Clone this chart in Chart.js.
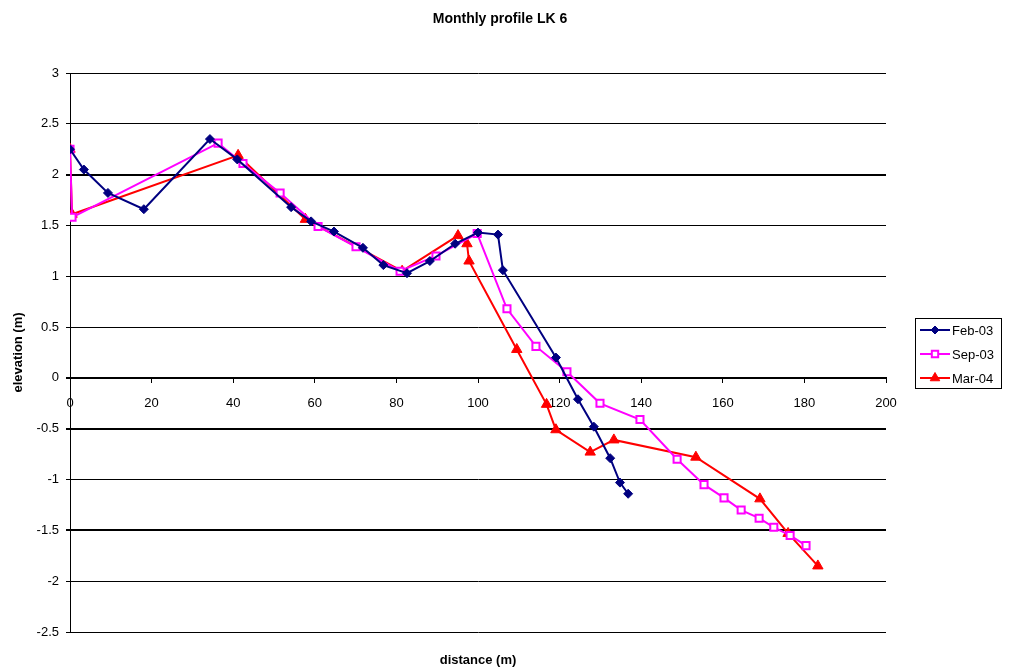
<!DOCTYPE html>
<html>
<head>
<meta charset="utf-8">
<script src="https://cdn.jsdelivr.net/npm/chart.js@4/dist/chart.umd.min.js"></script>
<style>
html,body{margin:0;padding:0;background:#fff;}
#wrap{width:1010px;height:671px;position:relative;}
</style>
</head>
<body>
<div id="wrap"><canvas id="c" width="1010" height="671"></canvas></div>
<script>
const chartTitle = "Monthly profile LK 6";
const xTitle = "distance (m)";
const yTitle = "elevation (m)";
const seriesNames = ["Feb-03", "Sep-03", "Mar-04"];

const febDist = [0, 3.4, 9.3, 18.1, 34.3, 41, 54.2, 59.1, 64.7, 71.8, 76.8, 82.6, 88.2, 94.4, 100, 104.9, 106.1, 119.1, 124.5, 128.4, 132.4, 134.8, 136.8];
const febElev = [2.25, 2.05, 1.82, 1.66, 2.35, 2.15, 1.68, 1.54, 1.44, 1.28, 1.11, 1.03, 1.15, 1.32, 1.43, 1.41, 1.06, 0.20, -0.21, -0.48, -0.79, -1.03, -1.14];

const sepDist = [0, 0.5, 36.3, 42.4, 51.5, 60.8, 70.1, 80.9, 89.7, 99.8, 107.1, 114.2, 121.8, 129.9, 139.7, 148.8, 155.4, 160.3, 164.5, 168.9, 172.5, 176.5, 180.4];
const sepElev = [2.25, 1.58, 2.31, 2.11, 1.82, 1.49, 1.29, 1.05, 1.20, 1.42, 0.68, 0.31, 0.06, -0.25, -0.41, -0.80, -1.05, -1.18, -1.30, -1.38, -1.47, -1.55, -1.65];

const marDist = [0, 0.5, 41.2, 57.7, 81.4, 95.1, 97.3, 97.8, 109.5, 116.8, 119.1, 127.5, 133.3, 153.4, 169.1, 176, 183.3];
const marElev = [2.25, 1.61, 2.19, 1.56, 1.05, 1.40, 1.32, 1.15, 0.28, -0.26, -0.51, -0.73, -0.61, -0.78, -1.19, -1.53, -1.85];

const xMin = 0, xMax = 200, xStep = 20;
const yMin = -2.5, yMax = 3, yStep = 0.5;

function pts(xs, ys){ return xs.map((x,i)=>({x:x, y:ys[i]})); }

const FONT = "'Liberation Sans', Arial, sans-serif";
const thickLines = [2, 0, -0.5, -1.5];

const styles = [
  {color:'#000080', pointStyle:'rectRot', radius:4.5, bg:'#000080'},
  {color:'#FF00FF', pointStyle:'rect', radius:5, bg:'#FFFFFF'},
  {color:'#FF0000', pointStyle:'triangle', radius:6, bg:'#FF0000'}
];

const dataArr = [pts(febDist, febElev), pts(sepDist, sepElev), pts(marDist, marElev)];

const datasets = dataArr.map((d,i)=>({
  label: seriesNames[i],
  data: d,
  showLine: true,
  borderColor: styles[i].color,
  backgroundColor: styles[i].bg,
  borderWidth: 2,
  pointStyle: styles[i].pointStyle,
  pointRadius: styles[i].radius,
  pointBorderColor: styles[i].color,
  pointBackgroundColor: styles[i].bg,
  pointBorderWidth: i===1 ? 2 : 1,
  tension: 0
}));

const textPlugin = {
  id: 'texts',
  afterDraw(chart){
    const ctx = chart.ctx;
    const ca = chart.chartArea;
    ctx.save();
    ctx.fillStyle = '#000';
    ctx.textAlign = 'center';
    ctx.textBaseline = 'middle';
    ctx.font = 'bold 14px ' + FONT;
    ctx.fillText(chartTitle, 500, 19);
    ctx.font = 'bold 13px ' + FONT;
    ctx.fillText(xTitle, (ca.left+ca.right)/2, 660);
    ctx.save();
    ctx.translate(18, (ca.top+ca.bottom)/2);
    ctx.rotate(-Math.PI/2);
    ctx.fillText(yTitle, 0, 0);
    ctx.restore();

    // legend
    const lx = 915, ly = 318, lw = 86, lh = 70;
    ctx.fillStyle = '#fff';
    ctx.fillRect(lx, ly, lw, lh);
    ctx.strokeStyle = '#000';
    ctx.lineWidth = 1;
    ctx.strokeRect(lx+0.5, ly+0.5, lw, lh);
    ctx.font = '13px ' + FONT;
    ctx.textAlign = 'left';
    chart.data.datasets.forEach((ds,i)=>{
      const y = ly + 12 + i*24;
      ctx.strokeStyle = ds.borderColor;
      ctx.lineWidth = 2;
      ctx.beginPath();
      ctx.moveTo(lx+5, y); ctx.lineTo(lx+35, y);
      ctx.stroke();
      ctx.fillStyle = ds.pointBackgroundColor;
      ctx.strokeStyle = ds.pointBorderColor;
      ctx.lineWidth = ds.pointBorderWidth;
      Chart.helpers.drawPoint(ctx, {
        pointStyle: ds.pointStyle,
        radius: ds.pointRadius - 0.5,
        borderWidth: ds.pointBorderWidth,
        rotation: 0
      }, lx+20, y);
      ctx.fillStyle = '#000';
      ctx.fillText(ds.label, lx+37, y+1);
    });
    ctx.restore();
  }
};

new Chart(document.getElementById('c'), {
  type: 'scatter',
  data: { datasets },
  options: {
    responsive: false,
    animation: false,
    devicePixelRatio: 1,
    layout: { padding: { left: 0, top: 73, right: 124, bottom: 39 } },
    plugins: { legend: {display:false}, title:{display:false}, tooltip:{enabled:false} },
    scales: {
      x: {
        type: 'linear',
        min: xMin, max: xMax,
        position: { y: 0 },
        ticks: { stepSize: xStep, color:'#000', font:{family:FONT, size:13}, padding: 13, maxRotation:0,
                 callback: (v)=> String(v) },
        grid: { drawOnChartArea: false, drawTicks: true, tickLength: 5, color:'#000' },
        border: { display: true, color: '#000', width: 1 }
      },
      y: {
        type: 'linear',
        min: yMin, max: yMax,
        afterFit(scale){ scale.width = 70; },
        ticks: { stepSize: yStep, color:'#000', font:{family:FONT, size:13}, padding: 7,
                 callback: (v)=> String(v) },
        grid: {
          color:'#000',
          lineWidth: (c)=> (c.tick && thickLines.includes(c.tick.value)) ? 2 : 1,
          tickLength: 4,
          drawTicks: true
        },
        border: { display: true, color:'#000', width: 1 }
      }
    }
  },
  plugins: [textPlugin]
});
</script>
</body>
</html>
